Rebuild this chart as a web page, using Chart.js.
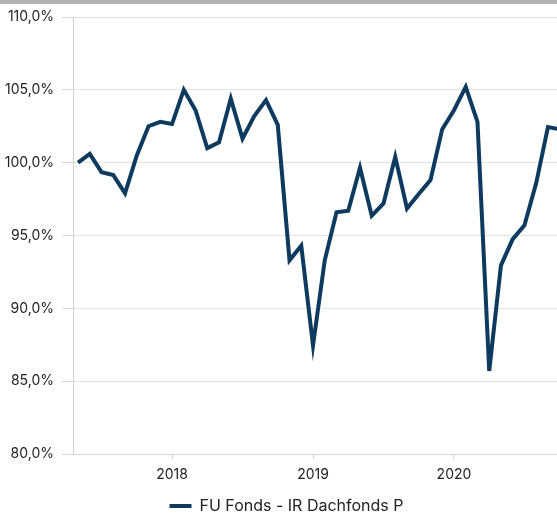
<!DOCTYPE html>
<html>
<head>
<meta charset="utf-8">
<script src="https://cdn.jsdelivr.net/npm/chart.js@4/dist/chart.umd.min.js"></script>
<style>
    html, body { margin: 0; padding: 0; background: #fff; }
    .wrap { position: relative; width: 557px; height: 514px; }
    .topbar { position: absolute; left: 0; top: 0; width: 557px; height: 4px; background: #b2b2b2; }
</style>
</head>
<body>
<div class="wrap">
    <canvas id="fundChart" width="557" height="514"></canvas>
    <div class="topbar"></div>
</div>
<script>
// monthly values, index % (start = 100)
const months = [
    '2017-05', '2017-06', '2017-07', '2017-08', '2017-09', '2017-10', '2017-11', '2017-12',
    '2018-01', '2018-02', '2018-03', '2018-04', '2018-05', '2018-06', '2018-07', '2018-08',
    '2018-09', '2018-10', '2018-11', '2018-12', '2019-01', '2019-02', '2019-03', '2019-04',
    '2019-05', '2019-06', '2019-07', '2019-08', '2019-09', '2019-10', '2019-11', '2019-12',
    '2020-01', '2020-02', '2020-03', '2020-04', '2020-05', '2020-06', '2020-07', '2020-08',
    '2020-09', '2020-10'
];

const fundValues = [
    100.0, 100.6, 99.35, 99.15, 97.9, 100.5, 102.5, 102.8,
    102.65, 105.0, 103.6, 101.0, 101.4, 104.4, 101.65, 103.2,
    104.3, 102.6, 93.3, 94.3, 87.45, 93.3, 96.6, 96.7,
    99.65, 96.35, 97.2, 100.4, 96.85, 97.85, 98.8, 102.3,
    103.6, 105.2, 102.8, 85.7, 92.95, 94.75, 95.7, 98.6,
    102.45, 102.3
];

const yearTicks = [12, 24, 36];
const yearLabels = ['2018', '2019', '2020'];

const seriesName = 'FU Fonds - IR Dachfonds P';

// month index counted from 2017-01
const monthIndex = months.map(m => {
    const [y, mo] = m.split('-').map(Number);
    return (y - 2017) * 12 + (mo - 1);
});

// legend sits a bit right of the canvas centre
const legendShift = {
    id: 'legendShift',
    afterLayout(chart) {
        const lg = chart.legend;
        if (lg) {
            lg.left += 8;
            lg.right += 8;
        }
    }
};

const ctx = document.getElementById('fundChart');

new Chart(ctx, {
    type: 'line',
    data: {
        datasets: [{
            label: seriesName,
            data: monthIndex.map((x, i) => ({ x: x, y: fundValues[i] })),
            borderColor: '#0d3a5e',
            backgroundColor: '#0d3a5e',
            borderWidth: 4,
            pointRadius: 0,
            tension: 0,
            fill: false
        }]
    },
    plugins: [legendShift],
    options: {
        responsive: false,
        animation: false,
        layout: {
            padding: { top: 17, right: 0, bottom: -10, left: 0 }
        },
        plugins: {
            legend: {
                position: 'bottom',
                labels: {
                    usePointStyle: true,
                    pointStyle: 'line',
                    pointStyleWidth: 22,
                    padding: 0,
                    color: '#222',
                    font: { family: 'Inter', size: 16, lineHeight: 1 }
                }
            },
            tooltip: { enabled: false }
        },
        scales: {
            x: {
                type: 'linear',
                min: 3.57,
                max: 44.77,
                afterBuildTicks: axis => {
                    axis.ticks = yearTicks.map(v => ({ value: v }));
                },
                afterFit: axis => {
                    axis.height = 44;
                },
                ticks: {
                    color: '#222',
                    padding: 7,
                    font: { family: 'Inter', size: 14 },
                    callback: (value) => {
                        const i = yearTicks.indexOf(value);
                        return i >= 0 ? yearLabels[i] : '';
                    }
                },
                grid: {
                    drawOnChartArea: false,
                    drawTicks: true,
                    tickLength: 5,
                    color: '#d4d4d4'
                },
                border: { color: '#d4d4d4', width: 1 }
            },
            y: {
                min: 80,
                max: 110,
                afterFit: axis => {
                    axis.width = 73;
                },
                ticks: {
                    stepSize: 5,
                    color: '#222',
                    padding: 8,
                    font: { family: 'Inter', size: 14 },
                    callback: (value) => value.toFixed(1).replace('.', ',') + '%'
                },
                grid: {
                    color: '#e4e4e4',
                    tickLength: 11,
                    tickColor: '#d4d4d4'
                },
                border: { color: '#cfcfcf', width: 1 }
            }
        }
    }
});
</script>
</body>
</html>
